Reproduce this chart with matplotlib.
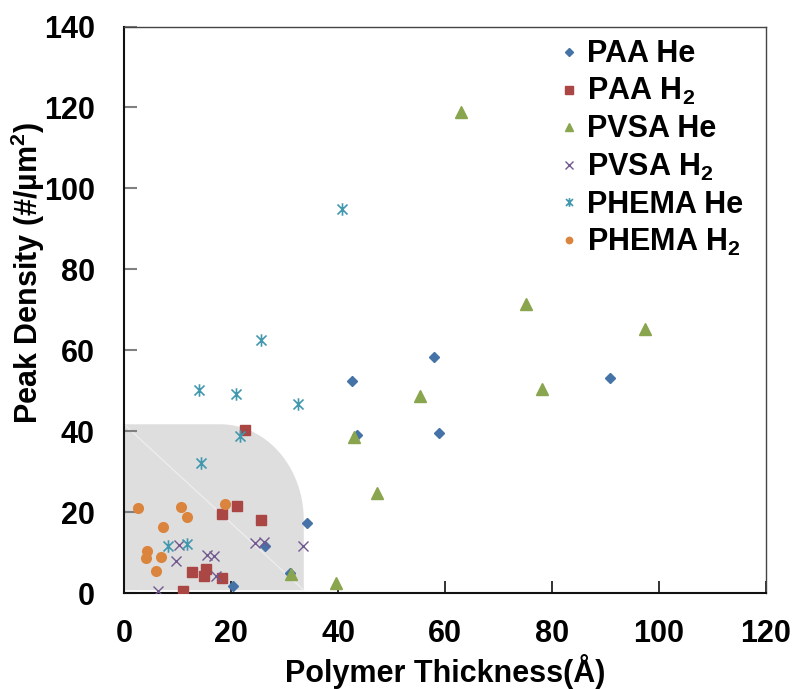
import numpy as np
import matplotlib
matplotlib.use("Agg")
import matplotlib.pyplot as plt
from matplotlib.path import Path
from matplotlib.patches import PathPatch

plt.rcParams.update({
    "font.family": ["Liberation Sans", "DejaVu Sans"],
    "font.weight": "bold",
    "mathtext.fontset": "custom",
    "mathtext.rm": "Liberation Sans:bold",
    "mathtext.bf": "Liberation Sans:bold",
    "mathtext.it": "Liberation Sans:bold",
    "mathtext.default": "bf",
})

# thickness (Å) / peak density (#/um^2) per polymer + gas
paa_he_x = [20.3, 26.3, 31.0, 34.2, 42.6, 43.5, 57.9, 58.9, 90.8]
paa_he_y = [1.8, 11.7, 5.0, 17.3, 52.3, 39.0, 58.3, 39.5, 53.1]

paa_h2_x = [11.0, 12.8, 15.0, 15.3, 18.3, 18.4, 21.1, 22.6, 25.6]
paa_h2_y = [0.5, 5.3, 4.3, 5.9, 19.6, 3.8, 21.6, 40.2, 18.1]

pvsa_he_x = [31.3, 39.6, 42.9, 47.2, 55.3, 63.0, 75.1, 78.1, 97.3]
pvsa_he_y = [4.7, 2.5, 38.6, 24.8, 48.6, 119.0, 71.4, 50.4, 65.3]

pvsa_h2_x = [6.3, 9.7, 10.3, 15.5, 16.8, 17.2, 24.5, 26.2, 33.5]
pvsa_h2_y = [0.5, 7.8, 11.9, 9.4, 9.1, 4.3, 12.3, 12.6, 11.7]

phema_he_x = [8.2, 11.7, 14.0, 14.3, 20.9, 21.7, 25.6, 32.5, 40.8]
phema_he_y = [11.6, 12.1, 50.1, 32.1, 49.3, 38.8, 62.5, 46.6, 94.9]

phema_h2_x = [2.7, 4.2, 4.3, 5.9, 7.0, 7.2, 10.6, 11.8, 18.8]
phema_h2_y = [21.1, 8.6, 10.4, 5.5, 8.9, 16.3, 21.2, 18.8, 21.9]

labels = ["PAA He", "PAA H$_2$", "PVSA He", "PVSA H$_2$",
          "PHEMA He", "PHEMA H$_2$"]

# thin-film region outline (flat top, elliptical corner, flat right side)
region_left, region_right = 0.0, 33.6
region_bottom, region_top = 0.7, 41.7
corner_x, corner_y = 18.0, 18.0

# six-armed asterisk marker
asterisk = Path(
    [(-1, -1), (1, 1), (-1, 1), (1, -1), (0, -1.25), (0, 1.25)],
    [Path.MOVETO, Path.LINETO, Path.MOVETO, Path.LINETO, Path.MOVETO, Path.LINETO],
)

FS = 22

fig = plt.figure(figsize=(7.96, 6.89), dpi=100)
ax = fig.add_axes([0.1558, 0.1393, 0.8065, 0.8222])

# shaded region behind the points
t = np.linspace(np.pi / 2, 0, 60)
arc_x = corner_x + (region_right - corner_x) * np.cos(t)
arc_y = corner_y + (region_top - corner_y) * np.sin(t)
verts = ([(region_left, region_bottom), (region_left, region_top)]
         + list(zip(arc_x, arc_y))
         + [(region_right, region_bottom), (region_left, region_bottom)])
ax.add_patch(PathPatch(Path(verts), facecolor="#dedede", edgecolor="none", zorder=0))
ax.plot([region_left, region_right], [region_top, region_bottom],
        color="#eeeeee", lw=0.9, zorder=0.5)

series = [
    (paa_he_x, paa_he_y, dict(marker="D", ms=5.5, color="#4572A7")),
    (paa_h2_x, paa_h2_y, dict(marker="s", ms=7.5, color="#AA4643")),
    (pvsa_he_x, pvsa_he_y, dict(marker="^", ms=8, color="#89A54E")),
    (pvsa_h2_x, pvsa_h2_y, dict(marker="x", ms=7.5, mew=1.0, color="#71588F")),
    (phema_he_x, phema_he_y, dict(marker=asterisk, ms=9, mew=1.2,
                                  mfc="none", color="#4198AF")),
    (phema_h2_x, phema_h2_y, dict(marker="o", ms=8, mec="none", color="#DB843D")),
]
for (xs, ys, style), lab in zip(series, labels):
    ax.plot(xs, ys, ls="none", label=lab, zorder=3, **style)

ax.set_xlim(0, 120)
ax.set_ylim(0, 140)
ax.set_xticks(np.arange(0, 121, 20))
ax.set_yticks(np.arange(0, 141, 20))

ax.tick_params(axis="x", direction="in", length=9, width=1.2, color="#111111",
               labelsize=FS, pad=19)
ax.tick_params(axis="y", direction="in", length=9, width=1.5, color="#808080",
               labelsize=FS, pad=21)
for side in ("left", "bottom"):
    ax.spines[side].set_linewidth(1.5)
    ax.spines[side].set_color("#111111")
for side in ("top", "right"):
    ax.spines[side].set_linewidth(1.0)
    ax.spines[side].set_color("#444444")

ax.set_xlabel("Polymer Thickness(Å)", fontsize=FS, fontweight="bold")
ax.set_ylabel("Peak Density (#/µm$^2$)", fontsize=FS, fontweight="bold")
ax.xaxis.set_label_coords(0.5, -0.108)
ax.yaxis.set_label_coords(-0.12, 0.565)

leg = ax.legend(loc="upper left", bbox_to_anchor=(0.660, 0.999), frameon=False,
                fontsize=FS, markerscale=0.7, handlelength=0.6,
                handletextpad=0.3, labelspacing=0.23, borderaxespad=0)

fig.savefig("out.png", dpi=100)
